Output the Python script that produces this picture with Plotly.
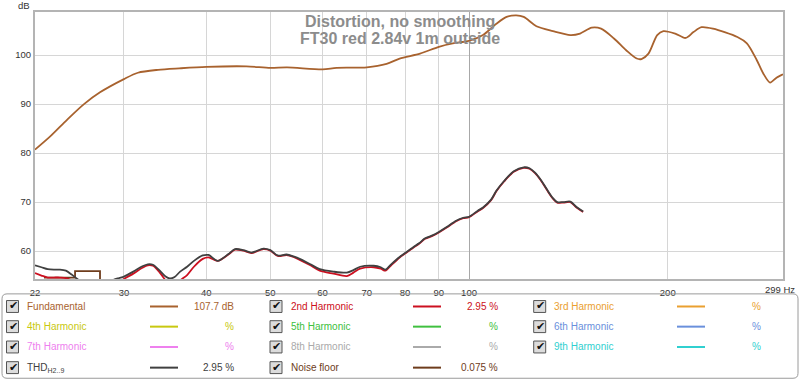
import math
import plotly.graph_objects as go

# ---------------- data ----------------
fund_f = [22, 23.2, 24.6, 26.1, 27.6, 30, 31.5, 33.8, 36.4, 40, 46, 50, 53, 60, 63, 70, 75, 78.5,
          84.3, 90, 94.5, 100, 105, 110, 114, 117.9, 121, 126.5, 134, 142.4, 147.3, 153.4, 158.5,
          165.8, 173, 179.5, 182.5, 187, 192.8, 197, 205.3, 212.8, 218.8, 225, 234.2, 255, 263.6,
          272.8, 279, 285.8, 292.3, 299]
fund_db = [80.7, 83.4, 86.8, 90.0, 92.4, 95.1, 96.4, 97.0, 97.3, 97.6, 97.7, 97.4, 97.5, 97.1, 97.4,
           97.5, 98.2, 99.3, 100.3, 101.7, 102.4, 102.9, 104.1, 106.4, 107.8, 108.1, 107.8, 105.9,
           104.9, 104.1, 104.4, 105.6, 105.4, 103.4, 101.0, 99.3, 99.2, 100.3, 104.1, 104.9, 104.4,
           103.5, 104.7, 105.7, 105.4, 103.7, 102.4, 99.0, 96.3, 94.4, 95.4, 96.1]

harm_f = [22, 22.5, 23, 23.5, 24, 24.5, 25, 25.5, 26, 27, 28, 28.9, 29.5, 30, 31, 32, 32.6, 33.2, 34,
          34.7, 35.2, 35.8, 36.5, 37.4, 38.3, 39.5, 40.3, 41.6, 43.2, 44.2, 45.5, 46.8, 48.8, 50,
          51.3, 52.9, 54.2, 55.6, 57.5, 59.4, 62.3, 65.3, 66.8, 68.4, 71.7, 73.5, 74.7, 76.2, 78.5,
          80, 82.3, 84, 85.8, 88, 90, 92.5, 95.6, 98, 100, 103, 105, 108, 110, 113, 116.9, 121,
          123.5, 125.9, 128.5, 131.2, 134, 136, 139, 142.4, 145.5, 148.9]
thd_db = [57.1, 56.7, 56.3, 56.2, 56.2, 56.0, 55.2, 54.3, 53.5, 52.5, 53.0, 54.1, 54.5, 54.8, 55.8,
          56.9, 57.3, 57.2, 56.0, 54.8, 54.4, 54.7, 55.8, 56.8, 58.0, 59.1, 59.2, 58.0, 59.4, 60.4,
          60.2, 59.7, 60.5, 60.2, 59.1, 59.3, 58.9, 58.3, 57.3, 56.3, 55.8, 55.6, 56.1, 56.8, 57.0,
          56.7, 56.2, 57.3, 58.8, 59.6, 60.8, 61.6, 62.6, 63.2, 63.9, 64.9, 66.2, 66.8, 67.0, 68.2,
          68.9, 70.5, 72.3, 74.3, 76.3, 77.1, 76.9, 76.0, 74.5, 72.6, 70.8, 70.0, 70.0, 70.1, 69.0,
          68.1]
h2_db = [55.5, 55.0, 54.6, 54.6, 54.6, 54.5, 54.0, 53.0, 52.0, 51.0, 51.5, 52.5, 53.5, 54.3, 55.4,
         56.6, 57.1, 57.0, 55.6, 54.0, 53.0, 52.8, 54.0, 55.1, 56.8, 58.4, 58.7, 58.0, 59.3, 60.3,
         60.1, 59.6, 60.4, 60.1, 59.0, 59.2, 58.8, 58.1, 57.1, 56.0, 55.4, 54.9, 55.6, 56.4, 56.7,
         56.4, 56.0, 57.1, 58.7, 59.5, 60.7, 61.5, 62.5, 63.1, 63.8, 64.8, 66.1, 66.7, 66.9, 68.1,
         68.8, 70.4, 72.2, 74.2, 76.2, 77.0, 76.8, 75.9, 74.4, 72.5, 70.7, 69.9, 69.9, 70.0, 68.9,
         68.0]

noise_f = [22.7, 25.3, 25.3, 27.6, 27.6]
noise_db = [54.6, 54.6, 55.9, 55.9, 50.0]

x_ticks = [22, 30, 40, 50, 60, 70, 80, 90, 100, 200]
x_ticktext = ["22", "30", "40", "50", "60", "70", "80", "90", "100", "200"]
y_ticks = [60, 70, 80, 90, 100]

legend_names = ["Fundamental", "2nd Harmonic", "3rd Harmonic",
                "4th Harmonic", "5th Harmonic", "6th Harmonic",
                "7th Harmonic", "8th Harmonic", "9th Harmonic",
                "THD<sub>H2..9</sub>", "Noise floor"]
legend_values = ["107.7 dB", "2.95 %", "%", "%", "%", "%", "%", "%", "%", "2.95 %", "0.075 %"]
legend_colors = ["#a8622e", "#cc1020", "#eaa030", "#c8c810", "#40c040", "#6a90dc",
                 "#ee80ee", "#aaaaaa", "#30d0d0", "#404040", "#6e3c1c"]

title_lines = ["Distortion, no smoothing", "FT30 red 2.84v 1m outside"]

# ---------------- geometry helpers (pixels -> paper) ----------------
W, H = 800, 381
L, R, T, B = 35, 783, 10, 279


def px(x):
    return (x - L) / (R - L)


def py(y):
    return (B - y) / (B - T)


FONT = "Liberation Sans, Arial, sans-serif"
TICK = 9.5
LEG = 10

fig = go.Figure()

fig.add_trace(go.Scatter(x=fund_f, y=fund_db, mode="lines", name="Fundamental",
                         line=dict(color=legend_colors[0], width=1.8, shape="spline", smoothing=0.8)))
fig.add_trace(go.Scatter(x=noise_f, y=noise_db, mode="lines", name="Noise floor",
                         line=dict(color=legend_colors[10], width=1.8)))
fig.add_trace(go.Scatter(x=harm_f, y=h2_db, mode="lines", name="2nd Harmonic",
                         line=dict(color=legend_colors[1], width=1.8, shape="spline", smoothing=0.8)))
fig.add_trace(go.Scatter(x=harm_f, y=thd_db, mode="lines", name="THD",
                         line=dict(color=legend_colors[9], width=1.8, shape="spline", smoothing=0.8)))
# invisible trace for the major (100 Hz) grid line on an overlaid axis
fig.add_trace(go.Scatter(x=[100], y=[60], mode="markers", marker=dict(opacity=0),
                         xaxis="x2", showlegend=False, hoverinfo="skip"))

shapes = []
annotations = []

# titles
for i, t in enumerate(title_lines):
    annotations.append(dict(text="<b>%s</b>" % t, x=px(400), y=py(20 + 16.7 * i), xref="paper",
                            yref="paper", xanchor="center", yanchor="middle", showarrow=False,
                            font=dict(family=FONT, size=16, color="#8c8c8c")))

# axis unit labels
annotations.append(dict(text="dB", x=px(23.5), y=py(3), xref="paper", yref="paper",
                        xanchor="center", yanchor="middle", showarrow=False,
                        font=dict(family=FONT, size=TICK, color="#333333")))
annotations.append(dict(text="299 Hz", x=px(797), y=py(290), xref="paper", yref="paper",
                        xanchor="right", yanchor="middle", showarrow=False,
                        font=dict(family=FONT, size=TICK, color="#333333")))

# legend box (rounded rectangle)
bx0, bx1, by0, by1, rad = 2, 798, 294, 379, 5
path = ("M {a},{b} L {c},{b} Q {d},{b} {d},{e} L {d},{f} Q {d},{g} {c},{g} "
        "L {a},{g} Q {h},{g} {h},{f} L {h},{e} Q {h},{b} {a},{b} Z").format(
    a=px(bx0 + rad), b=py(by0), c=px(bx1 - rad), d=px(bx1), e=py(by0 + rad),
    f=py(by1 - rad), g=py(by1), h=px(bx0))
shapes.append(dict(type="path", path=path, xref="paper", yref="paper",
                   line=dict(color="#9a9a9a", width=1), fillcolor="rgba(0,0,0,0)"))

row_y = [306.7, 327.0, 347.5, 368.3]
col_check = [12.5, 276.0, 539.7]
col_label = [25.0, 288.5, 551.7]
col_line = [(150, 178), (413, 441), (677, 705)]
col_value = [236.0, 499.5, 763.3]

for i, name in enumerate(legend_names):
    r, c = divmod(i, 3)
    yy = row_y[r]
    col = legend_colors[i]
    # checkbox
    shapes.append(dict(type="rect", xref="paper", yref="paper",
                       x0=px(col_check[c] - 6), x1=px(col_check[c] + 6),
                       y0=py(yy - 6), y1=py(yy + 6),
                       line=dict(color="#555555", width=1), fillcolor="#dcdcdc"))
    annotations.append(dict(text="✔", x=px(col_check[c] + 0.5), y=py(yy - 0.5), xref="paper",
                            yref="paper", xanchor="center", yanchor="middle", showarrow=False,
                            font=dict(family="DejaVu Sans", size=11, color="#111111")))
    # label
    annotations.append(dict(text=name, x=px(col_label[c]), y=py(yy), xref="paper", yref="paper",
                            xanchor="left", yanchor="middle", showarrow=False,
                            font=dict(family=FONT, size=LEG, color=col)))
    # line sample
    shapes.append(dict(type="line", xref="paper", yref="paper",
                       x0=px(col_line[c][0]), x1=px(col_line[c][1]), y0=py(yy), y1=py(yy),
                       line=dict(color=col, width=2)))
    # value
    annotations.append(dict(text=legend_values[i], x=px(col_value[c]), y=py(yy), xref="paper",
                            yref="paper", xanchor="right", yanchor="middle", showarrow=False,
                            font=dict(family=FONT, size=LEG, color=col)))

xr = [math.log10(22), math.log10(299)]

fig.update_layout(
    width=W, height=H,
    margin=dict(l=L, r=W - R, t=T, b=H - B, pad=0),
    paper_bgcolor="white", plot_bgcolor="white",
    showlegend=False,
    font=dict(family=FONT, size=TICK, color="#333333"),
    xaxis=dict(type="log", range=xr, tickvals=x_ticks, ticktext=x_ticktext,
               showgrid=True, gridcolor="#d6d6d6", gridwidth=1,
               showline=True, linecolor="#b4b4b4", linewidth=2, mirror=True,
               ticks="outside", ticklen=4, tickcolor="rgba(0,0,0,0)",
               tickfont=dict(size=TICK, color="#333333"), zeroline=False),
    xaxis2=dict(type="log", range=xr, overlaying="x", tickvals=[100], showticklabels=False,
                showgrid=True, gridcolor="#a8a8a8", gridwidth=1, ticks="", showline=False,
                zeroline=False, layer="below traces"),
    yaxis=dict(range=[54.3, 108.8], tickvals=y_ticks, showgrid=True, gridcolor="#d6d6d6",
               gridwidth=1, showline=True, linecolor="#b4b4b4", linewidth=2, mirror=True,
               ticks="", tickfont=dict(size=TICK, color="#333333"), zeroline=False),
    shapes=shapes,
    annotations=annotations,
)

fig.write_html("out.html", config={"displayModeBar": False},
               post_script="document.body.style.margin='0';")
